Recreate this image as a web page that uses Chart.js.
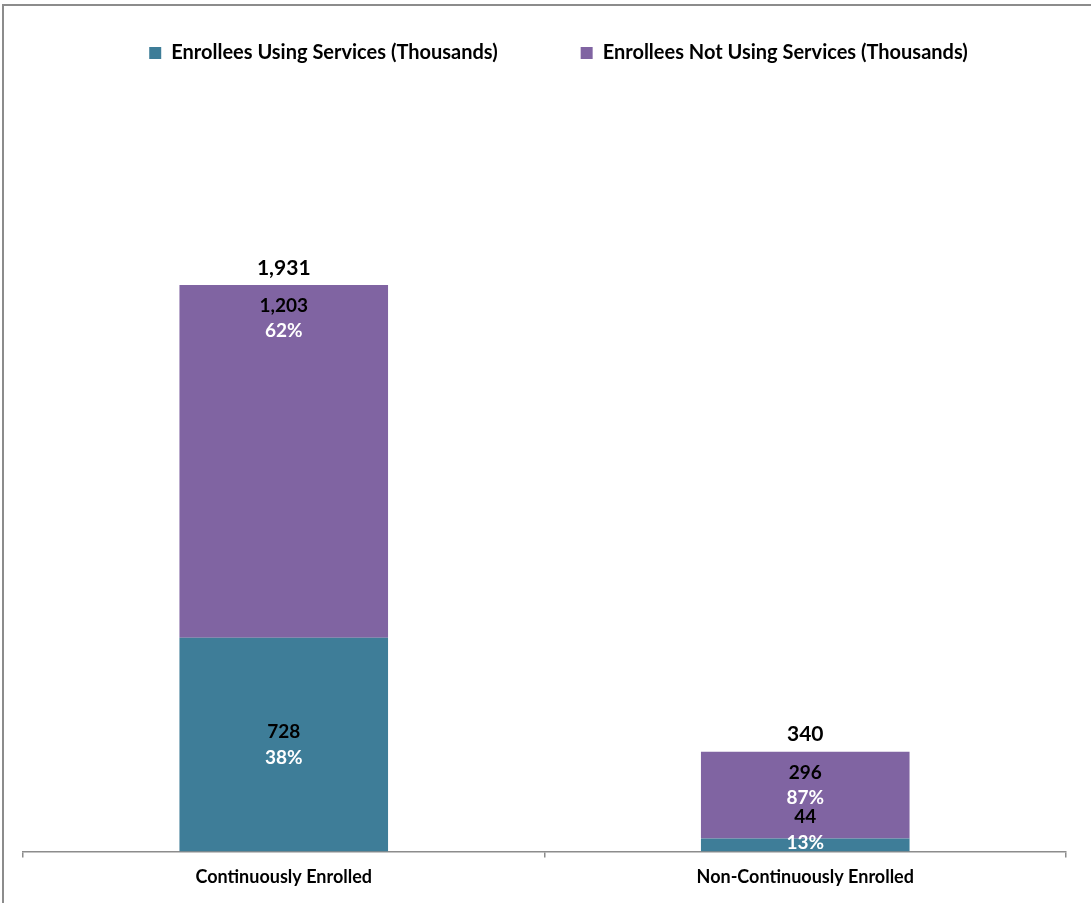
<!DOCTYPE html>
<html lang="en">
<head>
  <meta charset="UTF-8">
  <title>Enrollees Using Services</title>
  <script src="https://cdn.jsdelivr.net/npm/chart.js"></script>
  <style>
    html, body { margin: 0; padding: 0; background: #fff; overflow: hidden; }
    #frame { position: absolute; left: 2px; top: 4px; width: 1200px; height: 1000px;
             border-left: 2px solid #8c8c8c; border-top: 2px solid #8c8c8c; }
    #wrap { position: absolute; left: 0; top: 0; width: 1091px; height: 903px; }
  </style>
</head>
<body>
  <div id="frame"></div>
  <div id="wrap"><canvas id="chart"></canvas></div>
  <script>
    const categories = ['Continuously Enrolled', 'Non-Continuously Enrolled'];
    const usingServices = [728, 44];
    const notUsingServices = [1203, 296];
    const seriesNames = ['Enrollees Using Services (Thousands)', 'Enrollees Not Using Services (Thousands)'];

    const totals = categories.map((c, i) => usingServices[i] + notUsingServices[i]);
    const fmt = v => v.toLocaleString('en-US');
    const pct = (v, i) => Math.round(v / totals[i] * 100) + '%';

    const FONT = 'Lato, "Open Sans", sans-serif';

    // legend needs a fixed height and a small nudge to the right
    const legendBox = {
      id: 'legendBox',
      beforeInit(chart) {
        const fit = chart.legend.fit;
        chart.legend.fit = function () {
          fit.call(this);
          this.height = 158;
        };
      },
      afterLayout(chart) {
        chart.legend.left += 14;
        chart.legend.right += 14;
      }
    };

    // value + percent labels inside bars, totals on top
    const barLabels = {
      id: 'barLabels',
      afterDatasetsDraw(chart) {
        const ctx = chart.ctx;
        ctx.save();
        ctx.textAlign = 'center';
        ctx.textBaseline = 'middle';
        const vals = [usingServices, notUsingServices];
        chart.data.datasets.forEach((ds, di) => {
          const meta = chart.getDatasetMeta(di);
          meta.data.forEach((bar, i) => {
            let y1, y2;
            if (di === 0) {
              const mid = (bar.y + bar.base) / 2;
              y2 = Math.min(mid + 13, bar.base - 9);
              y1 = y2 - 26;
            } else {
              y1 = bar.y + 21;
              y2 = y1 + 25;
            }
            ctx.font = 'bold 19px ' + FONT;
            ctx.fillStyle = '#000';
            ctx.fillText(fmt(vals[di][i]), bar.x, y1);
            ctx.fillStyle = '#fff';
            ctx.fillText(pct(vals[di][i], i), bar.x, y2);
            if (di === 1) {
              ctx.font = 'bold 21px ' + FONT;
              ctx.fillStyle = '#000';
              ctx.fillText(fmt(totals[i]), bar.x, bar.y - 17);
            }
          });
        });
        ctx.restore();
      }
    };

    new Chart(document.getElementById('chart'), {
      type: 'bar',
      data: {
        labels: categories,
        datasets: [
          { label: seriesNames[0], data: usingServices, backgroundColor: '#3e7d98' },
          { label: seriesNames[1], data: notUsingServices, backgroundColor: '#8064a2' }
        ]
      },
      options: {
        responsive: true,
        maintainAspectRatio: false,
        animation: false,
        categoryPercentage: 0.4,
        barPercentage: 1,
        layout: { padding: { top: -40, left: 23, right: 25, bottom: 6 } },
        plugins: {
          legend: {
            position: 'top',
            labels: {
              boxWidth: 12, boxHeight: 12, padding: 83,
              color: '#000',
              font: { family: FONT, size: 20, weight: 'bold' }
            }
          },
          tooltip: { enabled: false }
        },
        scales: {
          x: {
            stacked: true,
            grid: { display: true, offset: true, drawOnChartArea: false, drawTicks: true, tickLength: 6, color: '#8c8c8c', lineWidth: 1.5 },
            border: { display: true, color: '#8c8c8c', width: 1.5 },
            ticks: { color: '#000', padding: 9, font: { family: FONT, size: 18, weight: 'bold' } }
          },
          y: {
            stacked: true,
            display: false,
            min: 0,
            max: 2500
          }
        }
      },
      plugins: [barLabels, legendBox]
    });
  </script>
</body>
</html>
